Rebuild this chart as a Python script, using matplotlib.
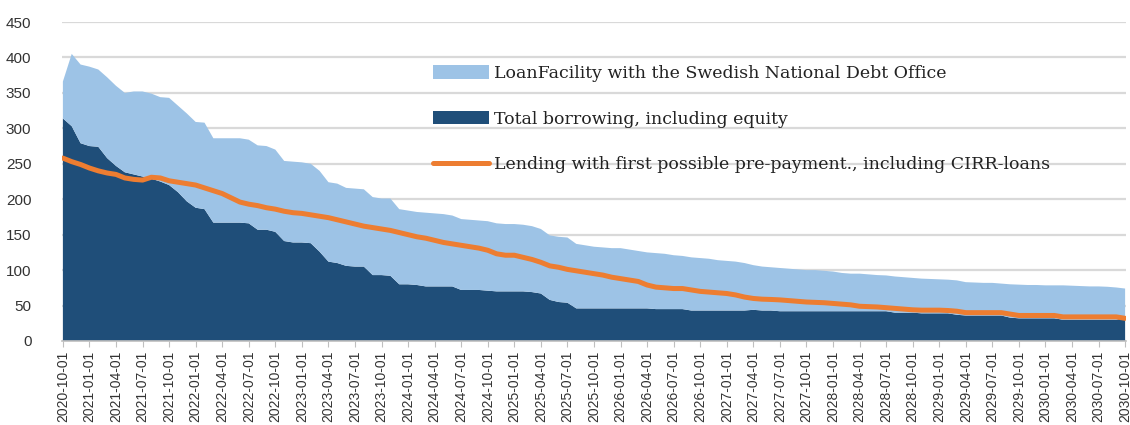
import numpy as np
import pandas as pd
import matplotlib
matplotlib.use('Agg')
import matplotlib.pyplot as plt

# --- data (SEK bn), monthly from 2020-10-01 to 2030-10-01 ---
months = pd.date_range('2020-10-01', '2030-10-01', freq='MS')

# total borrowing, including equity
borrowing = [314, 303, 279, 275, 274, 258, 247, 238, 235, 232,
             229, 225, 220, 210, 197, 188, 186, 167, 167, 167,
             167, 166, 157, 157, 154, 141, 139, 139, 138, 126,
             112, 110, 106, 105, 105, 93, 93, 92, 80, 80,
             79, 77, 77, 77, 77, 72, 72, 72, 71, 70,
             70, 70, 70, 69, 67, 58, 55, 54, 46, 46,
             46, 46, 46, 46, 46, 46, 46, 45, 45, 45,
             45, 43, 43, 43, 43, 43, 43, 43, 44, 43,
             43, 42, 42, 42, 42, 42, 42, 42, 42, 42,
             42, 42, 42, 42, 40, 40, 40, 39, 39, 39,
             39, 37, 36, 36, 36, 36, 36, 33, 32, 32,
             32, 32, 32, 30, 30, 30, 30, 30, 30, 30, 33]

# borrowing + loan facility with the Swedish National Debt Office (top of light area)
capacity = [366, 405, 390, 387, 383, 372, 360, 350, 352, 352,
            349, 344, 343, 332, 321, 309, 308, 286, 286, 286,
            286, 284, 276, 275, 270, 254, 253, 252, 250, 240,
            224, 222, 216, 215, 214, 203, 201, 201, 186, 184,
            182, 181, 180, 179, 177, 172, 171, 170, 169, 166,
            165, 165, 164, 162, 158, 149, 147, 146, 137, 135,
            133, 132, 131, 131, 129, 127, 125, 124, 123, 121,
            120, 118, 117, 116, 114, 113, 112, 110, 107, 105,
            104, 103, 102, 101, 100, 100, 99, 98, 96, 95,
            95, 94, 93, 92.5, 91, 90, 89, 88, 87.5, 87,
            86.5, 85.5, 83, 82.5, 82, 82, 81, 80, 79.5, 79,
            79, 78.5, 78.5, 78.5, 78, 77.5, 77, 77, 76.5, 75.5, 74]

# lending with first possible pre-payment, including CIRR-loans
lending = [258, 253, 249, 244, 240, 237, 235, 230, 228, 227,
           231, 230, 226, 224, 222, 220, 216, 212, 208, 202,
           196, 193, 191, 188, 186, 183, 181, 180, 178, 176,
           174, 171, 168, 165, 162, 160, 158, 156, 153, 150,
           147, 145, 142, 139, 137, 135, 133, 131, 128, 123,
           121, 121, 118, 115, 111, 106, 104, 101, 99, 97,
           95, 93, 90, 88, 86, 84, 79, 76, 75, 74,
           74, 72, 70, 69, 68, 67, 65, 62, 60, 59,
           58.6, 58, 57, 56, 55, 54.5, 54, 53, 52, 51,
           49, 48.5, 48, 47, 46, 45, 44, 43.5, 43.5, 43.5,
           43, 42, 40, 40, 40, 40, 40, 38, 36, 36,
           36, 36, 36, 34, 34, 34, 34, 34, 34, 34, 32]

labels = ['LoanFacility with the Swedish National Debt Office',
          'Total borrowing, including equity',
          'Lending with first possible pre-payment., including CIRR-loans']

# --- plot ---
x = np.arange(len(months))
borrowing = np.array(borrowing, dtype=float)
facility = np.array(capacity, dtype=float) - borrowing

fig = plt.figure(figsize=(11.3, 4.25), dpi=100)
ax = fig.add_axes([62 / 1130, 84 / 425, 1064 / 1130, 319 / 425])

polys = ax.stackplot(x, borrowing, facility, colors=['#1F4E79', '#9DC3E6'], linewidth=0)
line, = ax.plot(x, lending, color='#ED7D31', linewidth=3.6, solid_capstyle='round')

ax.set_ylim(0, 450)
ax.set_yticks(range(0, 451, 50))
ax.set_xlim(-0.1, 120.1)
ticks = x[::3]
ax.set_xticks(ticks)
ax.set_xticklabels([months[i].strftime('%Y-%m-%d') for i in ticks], rotation=90,
                   fontsize=10, family='Liberation Sans', color='#333333')
for t in ax.get_yticklabels():
    t.set_family('Liberation Sans')
ax.tick_params(axis='y', length=0, pad=22, labelsize=11, labelcolor='#333333')
ax.tick_params(axis='x', length=4, color='#BFBFBF', pad=3)

ax.grid(axis='y', color='#D9D9D9', linewidth=1.6)
ax.set_axisbelow(True)
for s in ['top', 'right', 'left']:
    ax.spines[s].set_visible(False)
ax.spines['bottom'].set_color('#BFBFBF')
ax.spines['bottom'].set_linewidth(1.2)

fig.legend([polys[1], polys[0], line], labels, loc='upper left',
           bbox_to_anchor=(433 / 1130, 1 - 65 / 425), frameon=False,
           prop={'family': 'DejaVu Serif', 'size': 12.5},
           handlelength=3.2, handleheight=0.8, handletextpad=0.3,
           labelspacing=1.65, borderpad=0, borderaxespad=0, labelcolor='#222222')

fig.savefig('out.png', dpi=100)
